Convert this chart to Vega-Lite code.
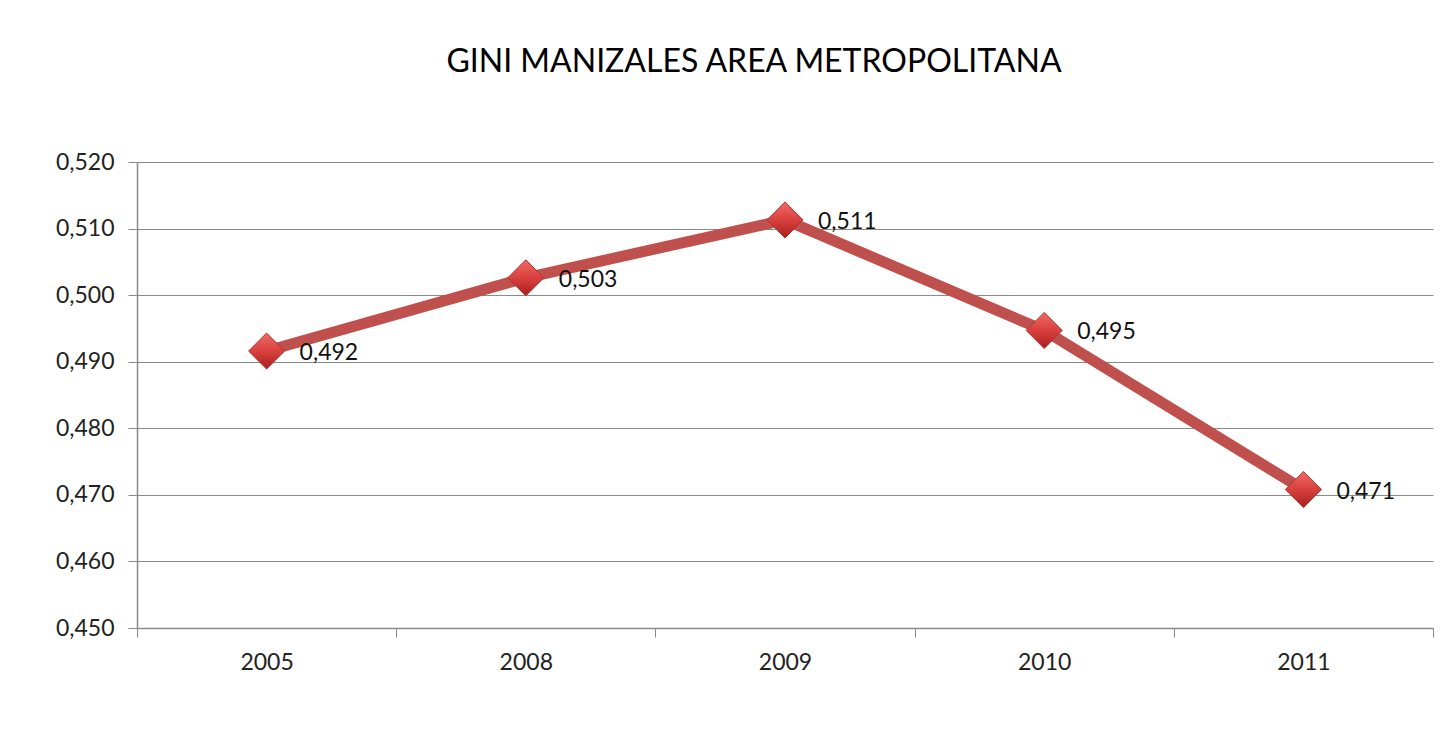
{
  "$schema": "https://vega.github.io/schema/vega-lite/v6.json",
  "autosize": "none",
  "width": 1296,
  "height": 466,
  "padding": {"left": 137, "top": 162, "right": 11, "bottom": 114},
  "background": "white",
  "title": {
    "text": "GINI MANIZALES AREA METROPOLITANA",
    "font": "Lato",
    "fontSize": 32,
    "fontWeight": "normal",
    "color": "#000000",
    "anchor": "middle",
    "dx": -31,
    "offset": 72
  },
  "config": {
    "locale": {
      "number": {"decimal": ",", "thousands": ".", "grouping": [3], "currency": ["$", ""]}
    },
    "view": {"stroke": null},
    "font": "Lato"
  },
  "data": {
    "values": [
      {"year": "2005", "gini": 0.4916},
      {"year": "2008", "gini": 0.5026},
      {"year": "2009", "gini": 0.5113},
      {"year": "2010", "gini": 0.4947},
      {"year": "2011", "gini": 0.4708}
    ]
  },
  "encoding": {
    "x": {
      "field": "year",
      "type": "ordinal",
      "sort": null,
      "scale": {"paddingInner": 0, "paddingOuter": 0},
      "axis": {
        "title": null,
        "labelAngle": 0,
        "labelFont": "Lato",
        "labelFontSize": 23,
        "labelColor": "#222222",
        "labelPadding": 14,
        "tickBand": "extent",
        "tickSize": 9,
        "tickColor": "#8a8a8a",
        "domainColor": "#8a8a8a",
        "domainWidth": 1.5,
        "grid": false
      }
    },
    "y": {
      "field": "gini",
      "type": "quantitative",
      "scale": {"domain": [0.45, 0.52], "nice": false, "zero": false},
      "axis": {
        "title": null,
        "format": ".3f",
        "values": [0.45, 0.46, 0.47, 0.48, 0.49, 0.5, 0.51, 0.52],
        "labelFont": "Lato",
        "labelFontSize": 23,
        "labelColor": "#222222",
        "labelPadding": 14,
        "tickSize": 9,
        "tickColor": "#8a8a8a",
        "domainColor": "#8a8a8a",
        "domainWidth": 1.5,
        "gridColor": "#8a8a8a",
        "gridWidth": 1.2
      }
    }
  },
  "layer": [
    {
      "mark": {"type": "line", "color": "#C0504D", "strokeWidth": 11, "strokeJoin": "round"}
    },
    {
      "mark": {
        "type": "point",
        "shape": "diamond",
        "size": 1300,
        "filled": true,
        "opacity": 1,
        "stroke": "#a83533",
        "strokeWidth": 1,
        "color": {
          "gradient": "linear",
          "x1": 0, "y1": 0, "x2": 0, "y2": 1,
          "stops": [
            {"offset": 0, "color": "#f06a66"},
            {"offset": 0.5, "color": "#d9403d"},
            {"offset": 1, "color": "#a8201e"}
          ]
        }
      }
    },
    {
      "mark": {
        "type": "text",
        "align": "left",
        "baseline": "middle",
        "dx": 33,
        "dy": 2,
        "font": "Lato",
        "fontSize": 23,
        "color": "#111111"
      },
      "encoding": {
        "text": {"field": "gini", "type": "quantitative", "format": ".3f"}
      }
    }
  ]
}
